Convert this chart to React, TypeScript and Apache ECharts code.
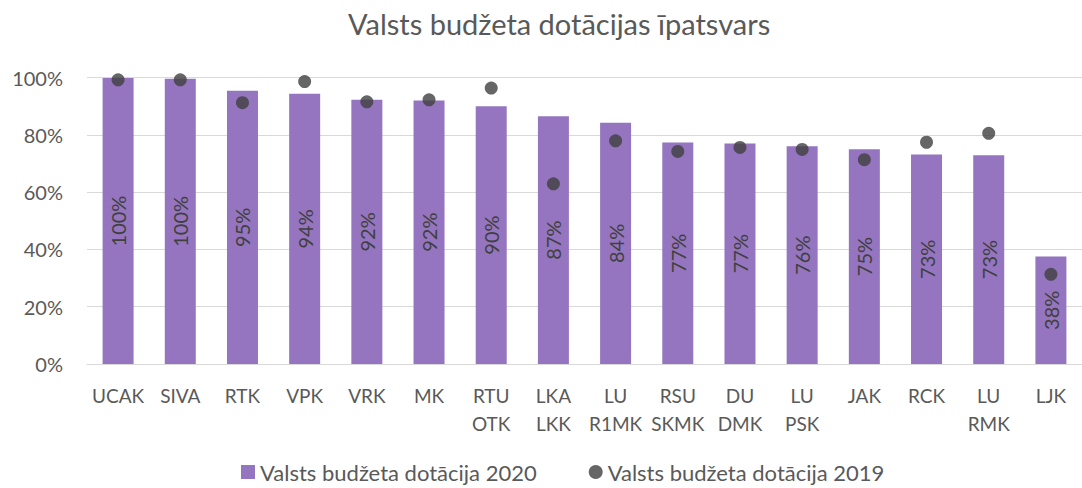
import React, { useEffect, useRef } from "react";
import * as echarts from "echarts";

const categories = [
  "UCAK", "SIVA", "RTK", "VPK", "VRK", "MK", "RTU\nOTK", "LKA\nLKK",
  "LU\nR1MK", "RSU\nSKMK", "DU\nDMK", "LU\nPSK", "JAK", "RCK", "LU\nRMK", "LJK",
];
const values2020 = [99.8, 99.6, 95.4, 94.3, 92.2, 92.0, 90.0, 86.5, 84.2, 77.3, 77.0, 76.0, 75.0, 73.1, 72.9, 37.5];
const values2019 = [99.2, 99.2, 91.2, 98.6, 91.5, 92.2, 96.3, 62.9, 77.9, 74.2, 75.6, 74.9, 71.3, 77.4, 80.5, 31.3];
const yTicks = { min: 0, max: 100, interval: 20 };
const titleText = "Valsts budžeta dotācijas īpatsvars";
const name2020 = "Valsts budžeta dotācija 2020";
const name2019 = "Valsts budžeta dotācija 2019";

const FONT = "Lato, 'Open Sans', sans-serif";

export default function App() {
  const ref = useRef<HTMLDivElement>(null);
  useEffect(() => {
    if (!ref.current) return;
    const chart = echarts.init(ref.current, undefined, { renderer: "svg" });
    chart.setOption({
      animation: false,
      backgroundColor: "#ffffff",
      textStyle: { fontFamily: FONT },
      title: {
        text: titleText,
        left: 343,
        top: 4,
        textStyle: { fontFamily: FONT, fontSize: 29, fontWeight: "normal", color: "#595959" },
      },
      legend: {
        left: 236,
        top: 455,
        itemGap: 52,
        itemWidth: 14,
        itemHeight: 14,
        textStyle: { fontFamily: FONT, fontSize: 22, color: "#595959", lineHeight: 24 },
        data: [
          { name: name2020, icon: "rect" },
          { name: name2019, icon: "circle" },
        ],
      },
      grid: { left: 87, top: 77.5, width: 1006, height: 286.5, containLabel: false },
      xAxis: {
        type: "category",
        data: categories,
        axisLine: { lineStyle: { color: "#d9d9d9", width: 1 } },
        axisTick: { show: false },
        axisLabel: {
          interval: 0,
          fontFamily: FONT,
          fontSize: 19,
          color: "#595959",
          lineHeight: 28,
          margin: 17,
        },
      },
      yAxis: {
        type: "value",
        min: yTicks.min,
        max: yTicks.max,
        interval: yTicks.interval,
        axisLine: { show: false },
        axisTick: { show: false },
        splitLine: { lineStyle: { color: "#d9d9d9", width: 1 } },
        axisLabel: {
          formatter: "{value}%",
          fontFamily: FONT,
          fontSize: 20,
          color: "#595959",
          margin: 24,
        },
      },
      series: [
        {
          name: name2020,
          type: "bar",
          data: values2020,
          barWidth: 31,
          itemStyle: { color: "#9575bf" },
          label: {
            show: true,
            position: "inside",
            rotate: 90,
            fontFamily: FONT,
            fontSize: 20,
            color: "#404040",
            formatter: (p: any) => Math.round(p.value) + "%",
          },
        },
        {
          name: name2019,
          type: "scatter",
          data: values2019,
          symbol: "circle",
          symbolSize: 13,
          itemStyle: { color: "#404040" },
          z: 5,
        },
      ],
    });
    return () => chart.dispose();
  }, []);
  return (
    <div
      ref={ref}
      style={{ position: "absolute", left: 0, top: 0, width: 1082, height: 488 }}
    />
  );
}
